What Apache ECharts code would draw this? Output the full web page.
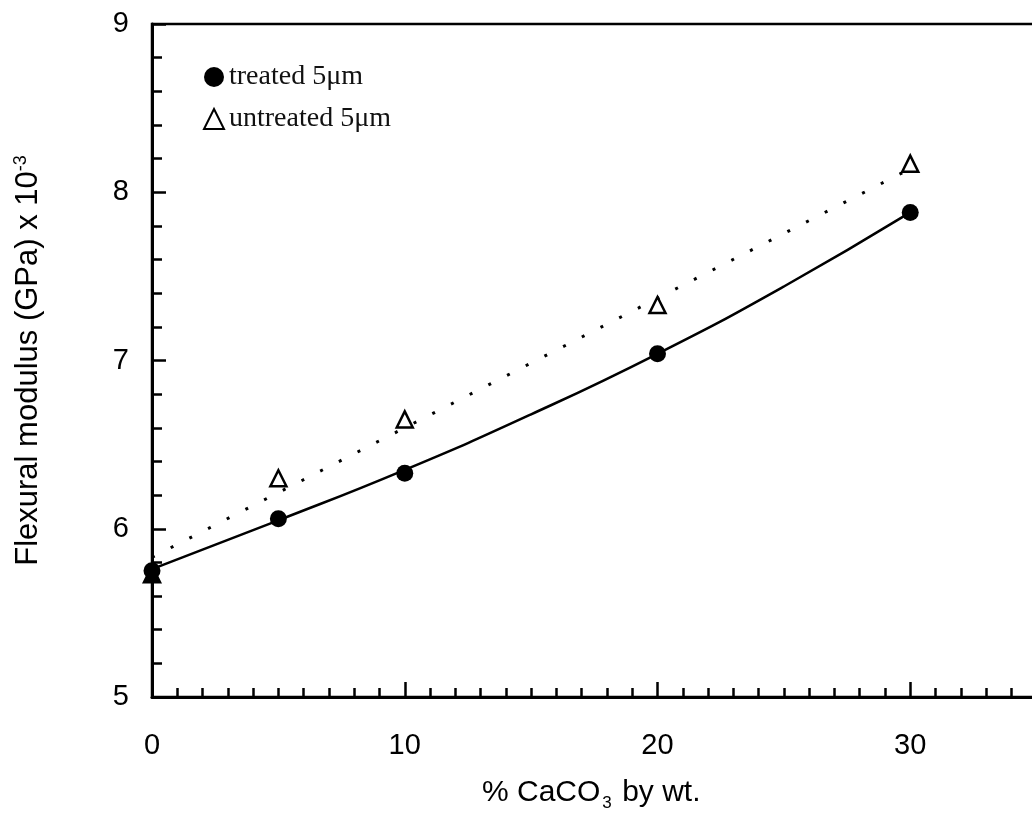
<!DOCTYPE html>
<html>
<head>
<meta charset="utf-8">
<script src="https://cdn.jsdelivr.net/npm/echarts@6/dist/echarts.min.js"></script>
<style>html,body{margin:0;padding:0;background:#fff;}#c{width:1032px;height:816px;}</style>
</head>
<body>
<div id="c"></div>
<script>
var xValues = [0, 5, 10, 20, 30];
var treated = [5.75, 6.06, 6.33, 7.04, 7.88];
var untreated = [5.73, 6.30, 6.65, 7.33, 8.17];
var solidFitX = [0, 5, 10, 15, 20, 25, 30];
var solidFitY = [5.76, 6.05, 6.35, 6.68, 7.04, 7.44, 7.88];
var dottedFitX = [0, 30];
var dottedFitY = [5.83, 8.14];
var xTicks = [0, 10, 20, 30];
var yTicks = [5, 6, 7, 8, 9];

function pairs(xs, ys) { return xs.map(function (x, i) { return [x, ys[i]]; }); }

var chart = echarts.init(document.getElementById('c'));
var untreatedData = pairs(xValues, untreated).map(function (p, i) {
  if (i === 0) return { value: p, itemStyle: { color: '#000' } };
  return p;
});
chart.setOption({
  animation: false,
  backgroundColor: '#fff',
  grid: { left: 152, top: 24, height: 673, width: 1011, outerBoundsMode: 'none', containLabel: false,
    show: true, borderColor: '#000', borderWidth: 2.5, backgroundColor: 'transparent' },
  legend: {
    orient: 'vertical', left: 198, top: 58, itemWidth: 20, itemHeight: 20, itemGap: 14,
    data: ['treated 5\u03bcm', 'untreated 5\u03bcm'],
    textStyle: { fontFamily: 'Liberation Serif', fontSize: 28, color: '#111' }
  },
  xAxis: {
    type: 'value', min: 0, max: 40, interval: 10,
    axisLine: { lineStyle: { color: '#000', width: 3 } },
    axisTick: { inside: true, length: 15, lineStyle: { color: '#000', width: 2.5 } },
    minorTick: { show: true, splitNumber: 10, length: 9, lineStyle: { color: '#000', width: 2.5 } },
    splitLine: { show: false },
    axisLabel: { margin: 34, fontFamily: 'Liberation Sans', fontSize: 29, color: '#000',
      formatter: function (v) { return xTicks.indexOf(v) >= 0 ? String(v) : ''; } }
  },
  yAxis: {
    type: 'value', min: 5, max: 9, interval: 1,
    axisLine: { lineStyle: { color: '#000', width: 3 } },
    axisTick: { inside: true, length: 14, lineStyle: { color: '#000', width: 2.5 } },
    minorTick: { show: true, splitNumber: 5, length: 10, lineStyle: { color: '#000', width: 2.5 } },
    splitLine: { show: false },
    axisLabel: { margin: 23, fontFamily: 'Liberation Sans', fontSize: 29, color: '#000',
      formatter: function (v) { return yTicks.indexOf(v) >= 0 ? String(v) : ''; } },
    name: 'Flexural modulus (GPa) x 10{sup|-3}',
    nameLocation: 'middle', nameGap: 108,
    nameTextStyle: { fontFamily: 'Liberation Sans', fontSize: 31, color: '#000',
      rich: { sup: { fontFamily: 'Liberation Sans', fontSize: 18, color: '#000', verticalAlign: 'top', padding: [0, 0, 14, 0] } } }
  },
  graphic: [{
    type: 'text', left: 482, top: 778,
    style: {
      text: '% CaCO{sub|3} by wt.',
      fontFamily: 'Liberation Sans', fontSize: 30, fill: '#000',
      rich: { sub: { fontFamily: 'Liberation Sans', fontSize: 17, fill: '#000', padding: [20, 2, 0, 2] } }
    }
  }],
  series: [
    { type: 'line', data: pairs(solidFitX, solidFitY), smooth: 0.5, showSymbol: false, symbol: 'none',
      lineStyle: { color: '#000', width: 2.5, opacity: 1 }, z: 2, silent: true },
    { type: 'line', data: pairs(dottedFitX, dottedFitY), showSymbol: false, symbol: 'none',
      lineStyle: { color: '#000', width: 3, type: [3, 18], opacity: 1 }, z: 2, silent: true },
    { name: 'treated 5\u03bcm', type: 'scatter', data: pairs(xValues, treated), symbol: 'circle', symbolSize: 17,
      itemStyle: { color: '#000', opacity: 1 }, z: 4 },
    { name: 'untreated 5\u03bcm', type: 'scatter', data: untreatedData, symbol: 'triangle', symbolSize: 16,
      itemStyle: { color: '#fff', borderColor: '#000', borderWidth: 2.5, opacity: 1 }, z: 3 }
  ]
});
</script>
</body>
</html>
